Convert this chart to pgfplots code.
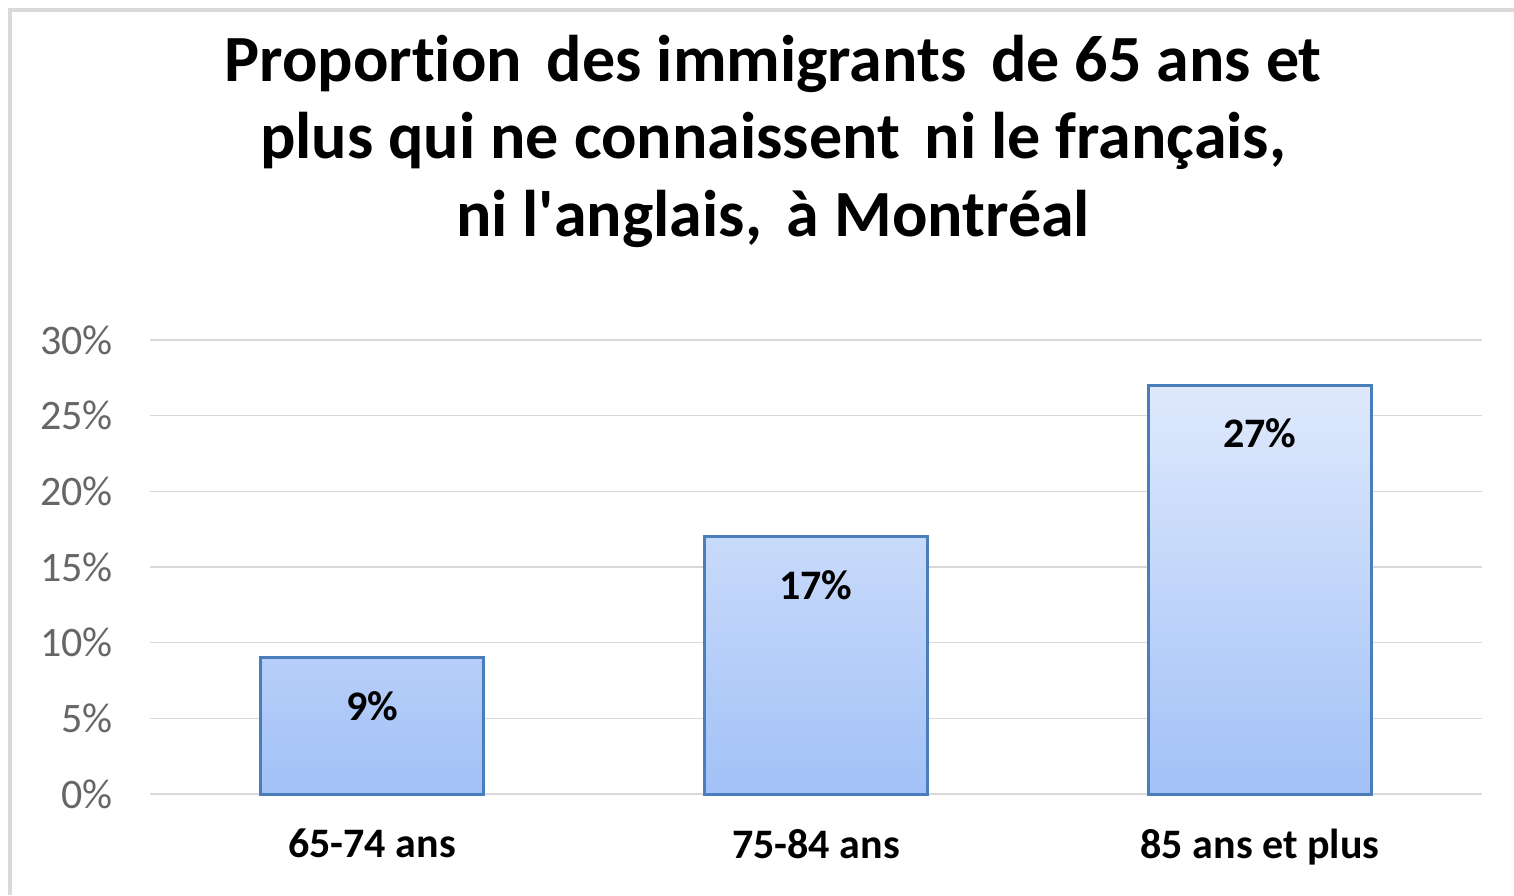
\documentclass[border=0pt]{standalone}
\usepackage{fontspec}
\setmainfont{Carlito}[Ligatures={NoCommon}]
\usepackage{pgfplots}
\pgfplotsset{compat=1.18}
\definecolor{gridgray}{HTML}{D9D9D9}
\definecolor{framegray}{HTML}{D9D9D9}
\definecolor{barborder}{HTML}{4A7EBB}
\definecolor{bartop}{HTML}{DFE9FC}
\definecolor{barbottom}{HTML}{A2C1F7}
\definecolor{ticktext}{HTML}{666666}
\begin{document}
\begin{tikzpicture}
\path[use as bounding box] (-75pt,-50.5pt) rectangle (682pt,397pt);
\draw[framegray, line width=2pt] (-70pt,-50.5pt) -- (-70pt,392pt) -- (682pt,392pt);
\begin{axis}[
  at={(0pt,0pt)}, anchor=south west,
  scale only axis,
  width=666pt, height=227pt,
  xmin=-0.5, xmax=2.5, ymin=0, ymax=30,
  axis line style={draw=none},
  ytick={0,5,10,15,20,25,30},
  ymajorgrids, grid style={gridgray, line width=0.8pt},
  major tick length=0pt,
  xtick={0,1,2},
  xticklabels={65-74 ans,75-84 ans,85 ans et plus},
  xticklabel style={font=\fontsize{21}{25}\selectfont\bfseries, yshift=-14pt},
  yticklabel={\pgfmathprintnumber{\tick}\%},
  yticklabel style={font=\fontsize{21}{25}\selectfont, text=ticktext, xshift=-15pt},
  /pgf/number format/assume math mode=true,
  ybar, bar width=111.5pt,
  nodes near coords={\pgfmathprintnumber{\pgfplotspointmeta}\%},
  nodes near coords style={font=\fontsize{21}{25}\selectfont\bfseries, anchor=center, yshift=-24pt, /pgf/number format/assume math mode=true},
  clip=false,
]
\addplot[draw=barborder, line width=1.5pt, top color=bartop, bottom color=barbottom]
  coordinates {(0,9) (1,17) (2,27)};
\end{axis}
\node[font=\fontsize{33}{38.75}\selectfont\bfseries, align=center, anchor=center] at (311.5pt,326.5pt)
  {Proportion\hspace{0.15em} des immigrants\hspace{0.15em} de 65 ans et\\plus qui ne connaissent\hspace{0.15em} ni le français,\\ni l\textquotesingle anglais,\hspace{0.15em} à Montréal};
\end{tikzpicture}
\end{document}
